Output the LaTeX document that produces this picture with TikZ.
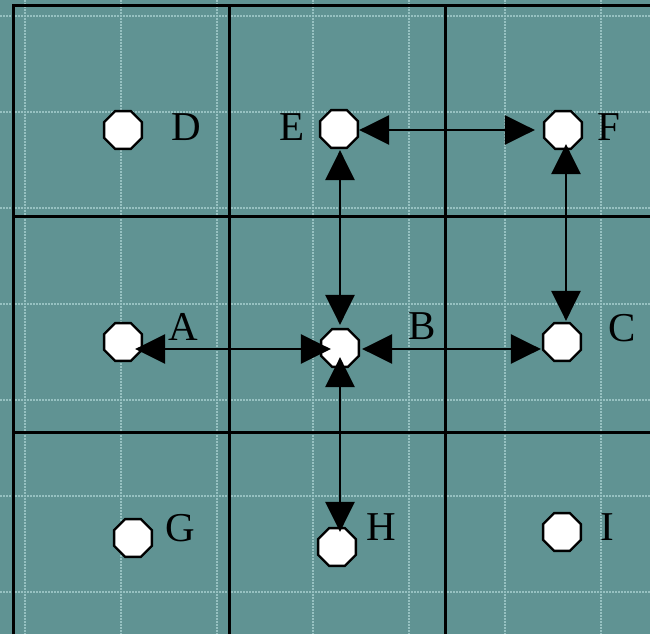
\documentclass[tikz,border=0pt]{standalone}
\usepackage{fontspec}
\setmainfont{Liberation Serif}
\usetikzlibrary{shapes.geometric,arrows.meta}
\definecolor{bg}{RGB}{96,147,147}
\definecolor{gridc}{RGB}{150,193,193}
\begin{document}
\begin{tikzpicture}[x=1pt,y=-1pt,
  oct/.style={regular polygon, regular polygon sides=8, draw=black, fill=white, line width=2.4pt, minimum size=41pt, inner sep=0pt},
  lab/.style={font=\fontsize{41}{48}\selectfont, inner sep=0pt, text=black},
  conn/.style={line width=2.8pt, {Triangle[length=30pt,width=29pt]}-{Triangle[length=30pt,width=29pt]}},
  cell/.style={line width=3pt, draw=black},
  fine/.style={draw=gridc, line width=1.1pt, dash pattern=on 2pt off 1pt}]
\fill[bg] (0,0) rectangle (650,634);
\useasboundingbox (0,0) rectangle (650,634);
% fine grid
\foreach \x in {25,121,217,313,409,505,601} \draw[fine] (\x,0) -- (\x,634);
\foreach \y in {16,112,208,304,400,496,592} \draw[fine] (0,\y) -- (650,\y);
% cell lines
\draw[cell] (13,634) -- (13,6) -- (650,6);
\draw[cell] (229,6) -- (229,634);
\draw[cell] (445,6) -- (445,634);
\draw[cell] (13,216) -- (650,216);
\draw[cell] (13,432) -- (650,432);
% nodes
\node[oct] (D) at (123,130) {};
\node[oct] (E) at (339,129) {};
\node[oct] (F) at (563,130) {};
\node[oct] (A) at (123,342) {};
\node[oct] (B) at (340,348) {};
\node[oct] (C) at (562,342) {};
\node[oct] (G) at (133,538) {};
\node[oct] (H) at (337,547) {};
\node[oct] (I) at (562,532) {};
% labels
\node[lab] (Dl) at (186,127) {D};
\node[lab] (El) at (292,127) {E};
\node[lab] (Fl) at (609,127) {F};
\node[lab] (Al) at (183,327) {A};
\node[lab] (Bl) at (422,326) {B};
\node[lab] (Cl) at (622,328) {C};
\node[lab] (Gl) at (180,528) {G};
\node[lab] (Hl) at (381,527) {H};
\node[lab] (Il) at (607,527) {I};
% connectors
\draw[conn] ([yshift=-1pt]E.east) -- ([xshift=-8pt]F.west);
\draw[conn] ([xshift=1pt,yshift=-1pt]E.south) -- ([yshift=3pt]B.north);
\draw[conn] ([xshift=3pt,yshift=6pt]F.south) -- ([xshift=4pt,yshift=1pt]C.north);
\draw[conn] ([xshift=-8pt,yshift=-7pt]A.east) -- ([xshift=11pt,yshift=-1pt]B.west);
\draw[conn] ([xshift=2pt,yshift=-1pt]B.east) -- ([xshift=-1pt,yshift=-7pt]C.west);
\draw[conn] ([yshift=11pt]B.south) -- ([xshift=3pt,yshift=-5pt]H.north);
\end{tikzpicture}
\end{document}
